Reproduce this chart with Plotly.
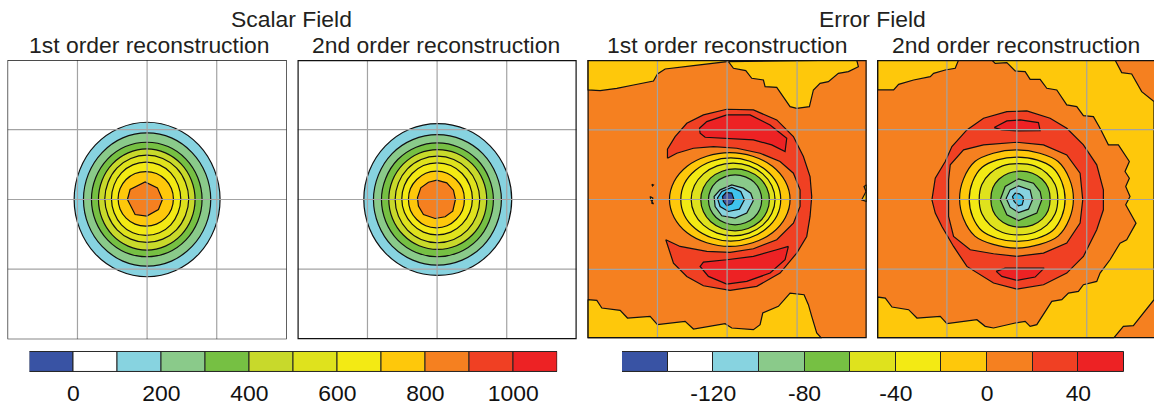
import plotly.graph_objects as go

# ---- colour levels
BLUE="#3953a4"; WHITE="#ffffff"; LBLUE="#87d3e0"; CYAN="#3fc3ee"; LGREEN="#8aca8a"; GREEN="#76c043"
YGREEN="#c8d92b"; LIME="#dfe21d"; YELLOW="#f3ea14"; GOLD="#fec80b"; ORANGE="#f58020"; RORANGE="#f04023"; RED="#ed2224"

# ---- colour bars
scalar_centers=[-50,50,150,250,350,450,550,650,750,850,950,1050]
scalar_colors=[BLUE,WHITE,LBLUE,LGREEN,GREEN,YGREEN,LIME,YELLOW,GOLD,ORANGE,RORANGE,RED]
scalar_ticks=[0,200,400,600,800,1000]
error_centers=[-150,-130,-110,-90,-70,-50,-30,-10,10,30,50]
error_colors=[BLUE,WHITE,LBLUE,LGREEN,GREEN,LIME,YELLOW,GOLD,ORANGE,RORANGE,RED]
error_ticks=[-120,-80,-40,0,40]
error_ticktext=["-120","-80","-40","0","40"]

# ---- panel 1 contours (scalar, 1st order)
p1_a_x=[660,643,596,525,441,357,286,239,222,239,286,357,441,525,596,643,660]
p1_a_y=[600,689,764,814,832,814,764,689,600,511,436,386,368,386,436,511,600]
p1_b_x=[632,617,576,514,441,368,306,265,250,265,306,368,441,514,576,617,632]
p1_b_y=[600,677,741,785,800,785,741,677,600,523,459,415,400,415,459,523,600]
p1_c_x=[606,593,557,504,440,376,323,287,274,287,323,376,440,504,557,593,606]
p1_c_y=[600,666,722,759,772,759,722,666,600,534,478,441,428,441,478,534,600]
p1_d_x=[585,574,543,496,440,384,337,306,295,306,337,384,440,496,543,574,585]
p1_d_y=[600,658,707,740,752,740,707,658,600,542,493,460,448,460,493,542,600]
p1_e_x=[566,556,529,488,440,392,351,324,314,324,351,392,440,488,529,556,566]
p1_e_y=[598,648,691,719,729,719,691,648,598,548,505,477,467,477,505,548,598]
p1_f_x=[542,534,512,478,438,398,364,342,334,342,364,398,438,478,512,534,542]
p1_f_y=[598,640,676,700,708,700,676,640,598,556,520,496,488,496,520,556,598]
p1_g_x=[520,514,496,469,437,405,378,360,354,360,378,405,437,469,496,514,520]
p1_g_y=[598,629,656,674,680,674,656,629,598,567,540,522,516,522,540,567,598]
p1_h_x=[487,475,440,405,382,390,435,472,487]; p1_h_y=[600,630,650,645,600,570,547,565,600]

# ---- panel 2 contours (scalar, 2nd order)
p2_a_x=[665,648,600,528,443,358,286,238,221,238,286,358,443,528,600,648,665]
p2_a_y=[600,687,761,811,828,811,761,687,600,513,439,389,372,389,439,513,600]
p2_b_x=[634,619,578,516,442,368,306,265,250,265,306,368,442,516,578,619,634]
p2_b_y=[601,676,740,782,797,782,740,676,601,526,462,420,405,420,462,526,601]
p2_c_x=[610,597,561,506,442,378,323,287,274,287,323,378,442,506,561,597,610]
p2_c_y=[601,666,722,759,772,759,722,666,601,536,480,443,430,443,480,536,601]
p2_d_x=[590,579,547,499,443,387,339,307,296,307,339,387,443,499,547,579,590]
p2_d_y=[600,657,706,739,750,739,706,657,600,543,494,461,450,461,494,543,600]
p2_e_x=[569,559,532,491,442,393,352,325,315,325,352,393,442,491,532,559,569]
p2_e_y=[600,650,692,720,730,720,692,650,600,550,508,480,470,480,508,550,600]
p2_f_x=[547,539,516,482,441,400,366,343,335,343,366,400,441,482,516,539,547]
p2_f_y=[598,639,674,698,706,698,674,639,598,557,522,498,490,498,522,557,598]
p2_g_x=[523,517,498,471,439,407,380,361,355,361,380,407,439,471,498,517,523]
p2_g_y=[600,633,660,679,685,679,660,633,600,567,540,521,515,521,540,567,600]
p2_h_x=[496,488,465,435,400,385,382,392,415,440,470,490]; p2_h_y=[600,635,652,657,645,620,595,565,548,542,550,572]

# ---- panel 3 contours (error, 1st order)
p3_base_x=[22,860,860,22]; p3_base_y=[30,30,866,866]
p3_gold1_x=[22,22,60,110,160,220,232,255,340,440,440]; p3_gold1_y=[30,120,122,115,105,93,72,57,47,35,30]
p3_gold2_x=[445,460,497,515,550,555,590,630,650,688,700,720,745,775,805,835,830]
p3_gold2_y=[35,55,62,85,90,110,112,170,175,170,120,100,95,70,65,50,30]
p3_gold3_x=[22,50,65,120,142,210,232,315,340,435,455,520,540,548,595,630,672,685,695,710,725,22]
p3_gold3_y=[750,752,775,782,805,800,825,815,838,822,835,840,825,790,770,730,735,765,800,850,866,866]
p3_gold4_x=[860,852,858,845,860]; p3_gold4_y=[405,410,425,450,455]
p3_speck1_x=[210,218,215,220,212]; p3_speck1_y=[440,445,460,462,450]
p3_speck2_x=[215,220,217]; p3_speck2_y=[403,405,408]
p3_ror_x=[262,262,285,320,370,440,520,590,640,670,690,695,690,680,650,600,530,450,370,320,280,262,257,300,380,450,520,590,640,660,660,640,600,540,470,400,340,290]
p3_ror_y=[325,298,260,220,195,178,180,210,260,320,380,440,500,560,610,670,710,722,708,680,640,590,570,590,605,608,597,570,520,470,420,370,335,310,295,290,295,310]
p3_red1_x=[358,380,440,510,570,620,615,575,520,440,375,360]; p3_red1_y=[235,215,195,195,225,265,305,285,270,265,262,250]
p3_red2_x=[625,615,570,500,440,385,360,370,440,520,590]; p3_red2_y=[590,630,670,695,703,680,650,637,630,620,600]
p3_e1_x=[630,616,577,518,449,380,321,282,268,282,321,380,449,518,577,616,630]
p3_e1_y=[449,503,549,579,590,579,549,503,449,395,349,319,308,319,349,395,449]
p3_e2_x=[602,591,558,509,452,395,346,313,302,313,346,395,452,509,558,591,602]
p3_e2_y=[449,497,537,564,574,564,537,497,449,401,361,334,324,334,361,401,449]
p3_e3_x=[585,575,548,507,459,411,370,343,333,343,370,411,459,507,548,575,585]
p3_e3_y=[449,491,526,550,558,550,526,491,449,407,372,348,340,348,372,407,449]
p3_e4_x=[568,560,538,504,465,426,392,370,362,370,392,426,465,504,538,560,568]
p3_e4_y=[450,486,516,536,543,536,516,486,450,414,384,364,357,364,384,414,450]
p3_e5_x=[545,539,522,496,465,434,408,391,385,391,408,434,465,496,522,539,545]
p3_e5_y=[450,479,503,519,525,519,503,479,450,421,397,381,375,381,397,421,450]
p3_e6_x=[520,500,465,425,405,402,420,455,490,512]; p3_e6_y=[452,490,505,498,470,440,420,405,415,430]
p3_e7_x=[493,478,445,420,412,425,455,482]; p3_e7_y=[450,478,485,470,445,425,413,425]
p3_e8_x=[462,455,440,430,427,438,455]; p3_e8_y=[450,462,468,455,440,428,430]

# ---- panel 4 contours (error, 2nd order)
p4_base_x=[20,852,852,20]; p4_base_y=[30,30,866,866]
p4_gold1_x=[22,70,85,130,180,190,225,255,265,22]; p4_gold1_y=[120,120,103,90,80,70,60,55,30,30]
p4_gold2_x=[365,375,410,435,465,480,510,530,560,590,620,640,670,690,715,745,778,765,778,767,780,767,798,770,750,720,690,680,640,625,595,575,545,520,500,480,465,435,370,345,320,230,210,140,115,65,45,22,22,730,760,790,852,852,815,785,755,735]
p4_gold2_y=[30,40,38,63,65,88,88,115,120,165,170,197,200,235,285,285,335,365,385,410,440,465,520,570,580,630,670,695,705,725,730,750,755,795,825,830,815,820,835,830,810,822,800,805,780,772,745,742,866,866,830,828,750,155,125,72,68,30]
p4_ror_x=[185,195,225,245,290,340,410,470,540,590,640,680,700,700,680,640,590,520,440,370,290,250,215,195]
p4_ror_y=[450,385,335,290,240,205,185,183,205,235,285,345,420,480,540,620,670,705,718,700,650,590,530,490]
p4_inner_x=[235,240,280,340,440,520,590,630,638,630,590,520,440,370,300,250,235]
p4_inner_y=[390,345,300,285,277,285,315,370,450,520,580,610,620,612,600,560,500]
p4_red1_x=[372,410,450,505,510,440,395]; p4_red1_y=[233,213,210,218,242,243,240]
p4_red2_x=[378,405,522,495,440,395]; p4_red2_y=[665,655,655,682,692,680]
p4_e1_x=[610,598,564,509,439,369,314,280,268,280,314,369,439,509,564,598,610]
p4_e1_y=[447,507,559,584,595,584,559,507,447,387,335,310,300,310,335,387,447]
p4_e2_x=[585,575,547,500,441,382,335,307,297,307,335,382,441,500,547,575,585]
p4_e2_y=[448,500,543,566,575,566,543,500,448,396,353,330,322,330,353,396,448]
p4_e3_x=[563,555,530,493,445,397,360,335,327,335,360,397,445,493,530,555,563]
p4_e3_y=[448,492,526,548,555,548,526,492,448,404,370,348,341,348,370,404,448]
p4_e4_x=[540,534,516,487,451,415,386,368,362,368,386,415,451,487,516,534,540]
p4_e4_y=[448,482,508,526,532,526,508,482,448,414,388,370,364,370,388,414,448]
p4_e5_x=[515,500,445,410,390,405,445,490,510]; p4_e5_y=[450,490,512,495,450,410,387,400,425]
p4_e6_x=[487,475,445,420,408,420,445,480]; p4_e6_y=[450,478,488,472,445,420,408,420]
p4_e7_x=[460,456,445,432,427,435,448,458]; p4_e7_y=[450,465,468,455,440,430,432,440]

W,H=1154,406
FONT="Liberation Sans"; TXT="#231f20"; FS=22.9

fig=go.Figure()

def contour(x,y,color,ax,smooth=False,outline=True):
    if x[0]!=x[-1] or y[0]!=y[-1]:
        x=x+[x[0]]; y=y+[y[0]]
    fig.add_trace(go.Scatter(x=x,y=y,xaxis="x"+ax,yaxis="y"+ax,mode="lines",fill="toself",fillcolor=color,
        line=dict(color="#111111" if outline else color,width=1.2 if outline else 0,shape="spline" if smooth else "linear",smoothing=1.0),
        hoverinfo="skip",showlegend=False))

for x,y,c,s in [(p1_a_x,p1_a_y,LBLUE,1),(p1_b_x,p1_b_y,LGREEN,1),(p1_c_x,p1_c_y,GREEN,1),(p1_d_x,p1_d_y,YGREEN,1),
                (p1_e_x,p1_e_y,LIME,1),(p1_f_x,p1_f_y,YELLOW,1),(p1_g_x,p1_g_y,GOLD,1),(p1_h_x,p1_h_y,ORANGE,0)]:
    contour(x,y,c,"",bool(s))
for x,y,c,s in [(p2_a_x,p2_a_y,LBLUE,1),(p2_b_x,p2_b_y,LGREEN,1),(p2_c_x,p2_c_y,GREEN,1),(p2_d_x,p2_d_y,YGREEN,1),
                (p2_e_x,p2_e_y,LIME,1),(p2_f_x,p2_f_y,YELLOW,1),(p2_g_x,p2_g_y,GOLD,1),(p2_h_x,p2_h_y,ORANGE,0)]:
    contour(x,y,c,"2",bool(s))

contour(p3_base_x,p3_base_y,ORANGE,"3",outline=False)
for x,y,c,s in [(p3_gold1_x,p3_gold1_y,GOLD,0),(p3_gold2_x,p3_gold2_y,GOLD,0),(p3_gold3_x,p3_gold3_y,GOLD,0),(p3_gold4_x,p3_gold4_y,GOLD,0),
                (p3_speck1_x,p3_speck1_y,GOLD,0),(p3_speck2_x,p3_speck2_y,GOLD,0),
                (p3_ror_x,p3_ror_y,RORANGE,0),(p3_red1_x,p3_red1_y,RED,0),(p3_red2_x,p3_red2_y,RED,0),
                (p3_e1_x,p3_e1_y,GOLD,1),(p3_e2_x,p3_e2_y,YELLOW,1),(p3_e3_x,p3_e3_y,LIME,1),(p3_e4_x,p3_e4_y,GREEN,1),
                (p3_e5_x,p3_e5_y,LGREEN,1),(p3_e6_x,p3_e6_y,LBLUE,0),(p3_e7_x,p3_e7_y,CYAN,0),(p3_e8_x,p3_e8_y,BLUE,0)]:
    contour(x,y,c,"3",bool(s))

contour(p4_base_x,p4_base_y,ORANGE,"4",outline=False)
for x,y,c,s in [(p4_gold1_x,p4_gold1_y,GOLD,0),(p4_gold2_x,p4_gold2_y,GOLD,0),(p4_ror_x,p4_ror_y,RORANGE,0),
                (p4_red1_x,p4_red1_y,RED,0),(p4_red2_x,p4_red2_y,RED,0),(p4_inner_x,p4_inner_y,ORANGE,0),
                (p4_e1_x,p4_e1_y,GOLD,1),(p4_e2_x,p4_e2_y,YELLOW,1),(p4_e3_x,p4_e3_y,LIME,1),(p4_e4_x,p4_e4_y,GREEN,1),
                (p4_e5_x,p4_e5_y,LGREEN,0),(p4_e6_x,p4_e6_y,LBLUE,0),(p4_e7_x,p4_e7_y,CYAN,0)]:
    contour(x,y,c,"4",bool(s))

# colour bars
fig.add_trace(go.Bar(x=scalar_centers,y=[1]*len(scalar_centers),width=100,xaxis="x5",yaxis="y5",
    marker=dict(color=scalar_colors,line=dict(color="#222222",width=1)),hoverinfo="skip",showlegend=False))
fig.add_trace(go.Bar(x=error_centers,y=[1]*len(error_centers),width=20,xaxis="x6",yaxis="y6",
    marker=dict(color=error_colors,line=dict(color="#222222",width=1)),hoverinfo="skip",showlegend=False))

def dom_x(a,b): return [a/W,b/W]
def dom_y(top,bottom): return [1-bottom/H,1-top/H]

panels=[("",(7.5,286.7),(60.3,341),(22,860),(1020,181),[232,441,650],[390,600,809],1.3),
        ("2",(297.5,576.7),(60.3,341),(22,860),(1020,181),[232,441,650],[390,600,809],2.4),
        ("3",(587.5,866.7),(60.3,340),(22,860),(866,30),[232,441,651],[240,449,659],2.4),
        ("4",(877,1154),(60.3,340),(20,852),(866,30),[230,440,650],[239,449,658],2.4)]
shapes=[]
axes={}
for ax,dx,dy,rx,ry,gx,gy,bw in panels:
    axes["xaxis"+ax]=dict(domain=dom_x(*dx),range=list(rx),visible=False,anchor="y"+ax)
    axes["yaxis"+ax]=dict(domain=dom_y(*dy),range=list(ry),visible=False,anchor="x"+ax)
    xr="x"+ax; yr="y"+ax
    for v in gx:
        shapes.append(dict(type="line",xref=xr,yref=yr,x0=v,x1=v,y0=ry[0],y1=ry[1],line=dict(color="#a3a3a3",width=1.2),layer="above"))
    for v in gy:
        shapes.append(dict(type="line",xref=xr,yref=yr,x0=rx[0],x1=rx[1],y0=v,y1=v,line=dict(color="#a3a3a3",width=1.2),layer="above"))
    x0,x1=rx; y0,y1=ry
    if ax=="4":
        shapes.append(dict(type="path",xref=xr,yref=yr,path=f"M {x1} {y1} L {x0} {y1} L {x0} {y0} L {x1} {y0}",line=dict(color="#111111",width=bw),layer="above"))
    else:
        shapes.append(dict(type="rect",xref=xr,yref=yr,x0=x0,x1=x1,y0=y0,y1=y1,line=dict(color="#111111",width=bw),layer="above"))

bar_axis=dict(showgrid=False,zeroline=False,showline=False,ticks="outside",tickcolor="rgba(0,0,0,0)",ticklen=2,
              anchor="free",position=1-372/H,tickfont=dict(family=FONT,size=FS,color="#111111"))
axes["xaxis5"]=dict(bar_axis,domain=dom_x(29.5,557.3),range=[-100,1100],tickmode="array",tickvals=scalar_ticks,ticktext=[str(v) for v in scalar_ticks])
axes["yaxis5"]=dict(domain=dom_y(352.7,374.5),range=[-0.05,1.05],visible=False,anchor="x5")
axes["xaxis6"]=dict(bar_axis,domain=dom_x(622,1124),range=[-160,60],tickmode="array",tickvals=error_ticks,ticktext=error_ticktext)
axes["yaxis6"]=dict(domain=dom_y(352.7,374.5),range=[-0.05,1.05],visible=False,anchor="x6")

def title(text,x,y):
    return dict(text=text,x=x/W,y=1-y/H,xref="paper",yref="paper",xanchor="center",yanchor="middle",showarrow=False,
                font=dict(family=FONT,size=FS,color=TXT))
annotations=[title("Scalar Field",292,19),title("Error Field",873,19),
             title("1st order reconstruction",149,45),title("2nd order reconstruction",436,45),
             title("1st order reconstruction",727,45),title("2nd order reconstruction",1016,45)]

fig.update_layout(width=W,height=H,margin=dict(l=0,r=0,t=0,b=0),paper_bgcolor="white",plot_bgcolor="white",
                  showlegend=False,bargap=0,shapes=shapes,annotations=annotations,**axes)
fig.write_html("out.html",config={"displayModeBar":False},post_script="document.body.style.margin='0';")
